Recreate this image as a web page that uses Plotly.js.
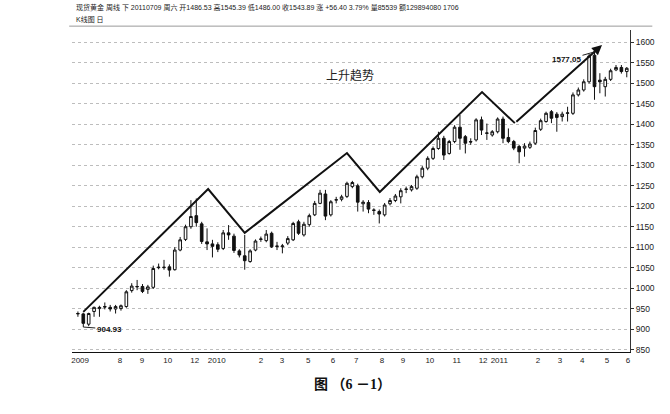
<!DOCTYPE html>
<html>
<head>
<meta charset="utf-8">
<script src="https://cdn.plot.ly/plotly-3.0.1.min.js"></script>
<style>html,body{margin:0;padding:0;background:#fff;}#chart{width:670px;height:414px;}</style>
</head>
<body>
<div id="chart"></div>
<script>
// Weekly spot gold candles
const opens = [937,937,912,943,950,955,953,949,950,955,994,1003,1004,997,1002,1050,1050,1052,1045,1093,1119,1150,1177,1157,1113,1108,1106,1097,1135,1127,1091,1079,1065,1093,1119,1116,1134,1103,1101,1110,1118,1162,1130,1155,1179,1207,1230,1179,1215,1217,1224,1248,1250,1206,1209,1191,1187,1179,1206,1214,1223,1241,1240,1244,1272,1293,1317,1341,1366,1329,1358,1393,1370,1358,1362,1411,1378,1374,1382,1413,1368,1358,1346,1342,1344,1354,1388,1407,1431,1425,1419,1427,1427,1472,1484,1504,1569,1508,1492,1510,1533,1539,1529];
const highs = [943,940,940,955,957,965,959,959,960,995,1012,1020,1010,1008,1055,1060,1069,1058,1100,1125,1155,1215,1219,1162,1146,1118,1112,1142,1154,1133,1095,1130,1095,1119,1126,1142,1138,1113,1108,1127,1162,1167,1162,1182,1213,1240,1240,1215,1223,1228,1260,1262,1255,1215,1215,1195,1192,1208,1220,1230,1244,1248,1252,1277,1298,1322,1346,1382,1372,1362,1398,1423,1374,1366,1415,1419,1402,1386,1417,1419,1390,1362,1350,1354,1358,1392,1414,1431,1435,1430,1431,1443,1478,1490,1510,1572,1577.05,1525,1516,1536,1545,1545,1540];
const lows = [930,904.93,907,930,930,948,943,938,945,952,989,995,988,986,998,1046,1045,1028,1043,1090,1115,1145,1150,1108,1093,1075,1088,1093,1118,1086,1075,1045,1062,1090,1113,1112,1098,1093,1085,1105,1115,1130,1126,1150,1176,1205,1166,1175,1207,1212,1220,1244,1187,1187,1183,1179,1158,1175,1202,1210,1207,1232,1236,1240,1268,1288,1313,1338,1313,1326,1354,1338,1329,1350,1358,1374,1362,1370,1378,1354,1354,1337,1305,1321,1340,1350,1384,1404,1403,1382,1407,1407,1423,1468,1480,1500,1460,1476,1468,1506,1530,1524,1515];
const closes = [938,914,938,953,953,954,949,955,957,991,1005,1004,992,1003,1048,1051,1051,1044,1093,1118,1150,1175,1160,1114,1108,1102,1095,1135,1130,1092,1081,1067,1091,1115,1120,1132,1101,1102,1103,1121,1158,1134,1156,1177,1207,1232,1176,1211,1216,1223,1256,1258,1210,1210,1193,1190,1181,1203,1214,1225,1238,1242,1248,1272,1293,1317,1341,1366,1325,1358,1393,1366,1354,1357,1411,1386,1379,1382,1413,1366,1358,1342,1333,1347,1352,1385,1409,1427,1415,1417,1425,1428,1472,1484,1504,1567,1492,1504,1510,1531,1539,1529,1537];

// Month tick labels (week index where each label sits)
const tickWeeks = [0.4,7.8,11.9,16.7,21.7,25.8,34.0,37.9,42.8,47.4,51.7,56.5,60.4,65.4,70.4,75.3,78.3,85.5,89.6,93.7,98.3,102.2];
const tickLabels = ['2009','8','9','10','12','2010','2','3','5','6','7','8','9','10','11','12','2011','2','3','4','5','6'];

// Trend zigzag (week index, price)
const trendWeeks = [1, 24.2, 31.0, 50.0, 56.1, 75.1, 81.2, 97.4];
const trendPrices = [942, 1242, 1135, 1330, 1235, 1479, 1403, 1594];

const headerLine1 = '现货黄金 周线 下 20110709 周六 开1486.53 高1545.39 低1486.00 收1543.89 涨 +56.40 3.79% 量85539 额129894080 1706';
const headerLine2 = 'K线图 日';
const trendLabel = '上升趋势';
const caption = '图 （6 －1）';

const weeks = opens.map((_, i) => i);
const lowIdx = lows.indexOf(Math.min(...lows));
const highIdx = highs.indexOf(Math.max(...highs));

const candle = {
  type: 'candlestick',
  x: weeks, open: opens, high: highs, low: lows, close: closes,
  increasing: {line: {color: '#111', width: 1}, fillcolor: '#ffffff'},
  decreasing: {line: {color: '#111', width: 1}, fillcolor: '#111111'},
  whiskerwidth: 0,
  hoverinfo: 'skip',
  showlegend: false
};
const n = trendWeeks.length;
const trend = {
  type: 'scatter', mode: 'lines',
  x: trendWeeks.slice(0, n - 1), y: trendPrices.slice(0, n - 1),
  line: {color: '#111', width: 2},
  hoverinfo: 'skip', showlegend: false
};

const txtFont = 'Liberation Sans Narrow, Liberation Sans, Noto Sans CJK SC, sans-serif';

const layout = {
  width: 670, height: 414,
  margin: {l: 72, r: 40, t: 30, b: 62},
  paper_bgcolor: '#fff', plot_bgcolor: '#fff',
  font: {family: txtFont, color: '#222'},
  showlegend: false,
  xaxis: {
    range: [-1.1, 102.6],
    rangeslider: {visible: false},
    showgrid: false, zeroline: false,
    showline: true, linecolor: '#111', linewidth: 1,
    tickmode: 'array', tickvals: tickWeeks, ticktext: tickLabels,
    ticks: '', tickfont: {size: 8, color: '#222'},
    fixedrange: true
  },
  yaxis: {
    side: 'right',
    range: [844, 1630.5],
    dtick: 50, tick0: 850,
    showgrid: true, gridcolor: '#bdbdbd', griddash: 'dot', gridwidth: 1,
    zeroline: false,
    showline: true, linecolor: '#333', linewidth: 1,
    ticks: 'outside', ticklen: 3, tickcolor: '#333',
    tickfont: {size: 8.5, color: '#222'},
    fixedrange: true
  },
  shapes: [
    {type: 'line', xref: 'paper', yref: 'paper', x0: -0.005, x1: 1.04, y0: 1.012, y1: 1.012,
     line: {color: '#999', width: 1}}
  ],
  annotations: [
    {xref: 'x', yref: 'y', axref: 'x', ayref: 'y',
     x: trendWeeks[n - 1], y: trendPrices[n - 1], ax: trendWeeks[n - 2], ay: trendPrices[n - 2],
     showarrow: true, arrowhead: 2, arrowsize: 1, arrowwidth: 2, arrowcolor: '#111', text: ''},
    {xref: 'x', yref: 'y', x: weeks[lowIdx], y: lows[lowIdx], ax: 26, ay: 2,
     text: lows[lowIdx].toFixed(2), showarrow: true, arrowhead: 0, arrowwidth: 1, arrowcolor: '#222',
     font: {size: 8, color: '#111', weight: 'bold'}},
    {xref: 'x', yref: 'y', x: weeks[highIdx], y: highs[highIdx], ax: -28, ay: 8,
     text: highs[highIdx].toFixed(2), showarrow: true, arrowhead: 0, arrowwidth: 1, arrowcolor: '#222',
     font: {size: 8, color: '#111', weight: 'bold'}},
    {xref: 'paper', yref: 'paper', x: (350 - 72) / 558, y: (352 - 74) / 322, text: trendLabel,
     showarrow: false, xanchor: 'center', yanchor: 'middle',
     font: {family: 'Noto Sans CJK SC, sans-serif', size: 12, color: '#222'}},
    {xref: 'paper', yref: 'paper', x: 0.004, y: (352 - 7) / 322, text: headerLine1,
     showarrow: false, xanchor: 'left', yanchor: 'middle',
     font: {family: txtFont, size: 7, color: '#222'}},
    {xref: 'paper', yref: 'paper', x: 0.004, y: (352 - 19) / 322, text: headerLine2,
     showarrow: false, xanchor: 'left', yanchor: 'middle',
     font: {family: txtFont, size: 7, color: '#222'}},
    {xref: 'paper', yref: 'paper', x: (352 - 72) / 558, y: (352 - 384) / 322, text: caption,
     showarrow: false, xanchor: 'center', yanchor: 'middle',
     font: {family: 'Liberation Serif, Noto Sans CJK SC, serif', size: 14, color: '#111', weight: 'bold'}}
  ]
};

Plotly.newPlot('chart', [candle, trend], layout, {staticPlot: true, displayModeBar: false});
</script>
</body>
</html>
